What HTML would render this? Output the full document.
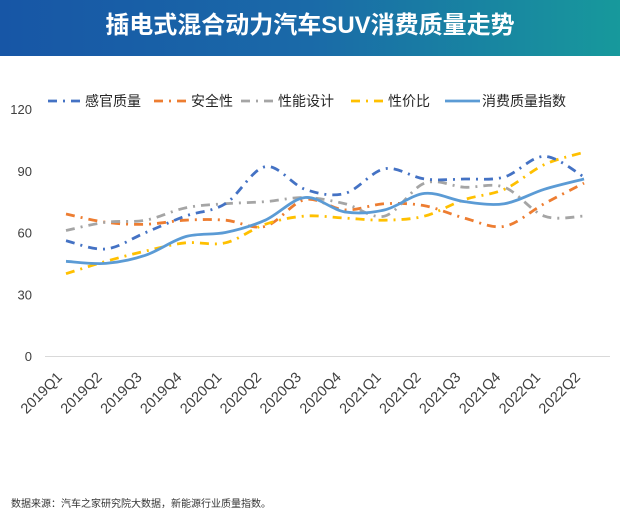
<!DOCTYPE html>
<html><head><meta charset="utf-8"><style>
body{margin:0;width:620px;height:523px;background:#fff;overflow:hidden;font-family:"Liberation Sans","Noto Sans CJK SC",sans-serif}
.hdr{position:absolute;left:0;top:0;width:620px;height:56px;background:linear-gradient(90deg,#1756a6 0%,#1a6aa8 50%,#17999c 100%);color:#fff;font-weight:bold;font-size:24px;text-align:center;line-height:52px;font-family:"Liberation Sans","Noto Sans CJK SC",sans-serif}
.foot{position:absolute;left:11px;top:495px;font-size:10px;color:#333}
svg{position:absolute;left:0;top:0}
</style></head><body>
<div class="hdr">插电式混合动力汽车SUV消费质量走势</div>
<svg id="c" width="620" height="523" font-family="Liberation Sans, Noto Sans CJK SC, sans-serif"></svg>
<div class="foot">数据来源：汽车之家研究院大数据，新能源行业质量指数。</div>
<script>
var s=document.getElementById('c'),h='';
function Y(v){return 356-v*2.058}
function X(i){return 66+i*39.85}
[0,30,60,90,120].forEach(function(v){h+='<text x="32" y="'+(Y(v)+5)+'" font-size="13" fill="#404040" text-anchor="end">'+v+'</text>'});
h+='<line x1="45" y1="356.5" x2="610" y2="356.5" stroke="#d9d9d9" stroke-width="1"/>';
var labs=['2019Q1','2019Q2','2019Q3','2019Q4','2020Q1','2020Q2','2020Q3','2020Q4','2021Q1','2021Q2','2021Q3','2021Q4','2022Q1','2022Q2'];
labs.forEach(function(l,i){var x=X(i)-3,y=378;h+='<text transform="translate('+x+','+y+') rotate(-45)" font-size="14.5" fill="#404040" text-anchor="end">'+l+'</text>'});
function path(d){var p=d.map(function(v,i){return [X(i),Y(v)]});var r='M'+p[0][0]+','+p[0][1];
for(var i=0;i<p.length-1;i++){var a=p[i-1]||p[i],b=p[i],c=p[i+1],e=p[i+2]||c;var t=6;
r+=' C'+(b[0]+(c[0]-a[0])/t)+','+(b[1]+(c[1]-a[1])/t)+' '+(c[0]-(e[0]-b[0])/t)+','+(c[1]-(e[1]-b[1])/t)+' '+c[0]+','+c[1];}return r}
var DA='9,6,2,6';
var S=[
[[69,65,64,66,66,63,76,71,74,73,67,63,74,84],'#ed7d31',DA],
[[61,65,66,72,74,75,77,74,68,84,82,82,68,68],'#a5a5a5',DA],
[[40,46,51,55,55,64,68,67,66,68,76,81,93,99],'#ffc000',DA],
[[56,52,60,68,74,92,81,79,91,86,86,87,97,87],'#4472c4',DA],
[[46,45,49,58,60,66,77,70,71,79,75,74,81,86],'#5b9bd5','']];
S.forEach(function(q){h+='<path d="'+path(q[0])+'" fill="none" stroke="'+q[1]+'" stroke-width="2.8"'+(q[2]?' stroke-dasharray="'+q[2]+'"':'')+'/>'});
var L=[[48,'#4472c4',DA,'感官质量'],[154,'#ed7d31',DA,'安全性'],[241,'#a5a5a5',DA,'性能设计'],[351,'#ffc000',DA,'性价比'],[445,'#5b9bd5','','消费质量指数']];
L.forEach(function(l){h+='<line x1="'+l[0]+'" y1="101" x2="'+(l[0]+35)+'" y2="101" stroke="'+l[1]+'" stroke-width="2.8"'+(l[2]?' stroke-dasharray="'+l[2]+'"':'')+'/>';
h+='<text x="'+(l[0]+37)+'" y="106" font-size="14" fill="#262626">'+l[3]+'</text>'});
s.innerHTML=h;
</script>
</body></html>
